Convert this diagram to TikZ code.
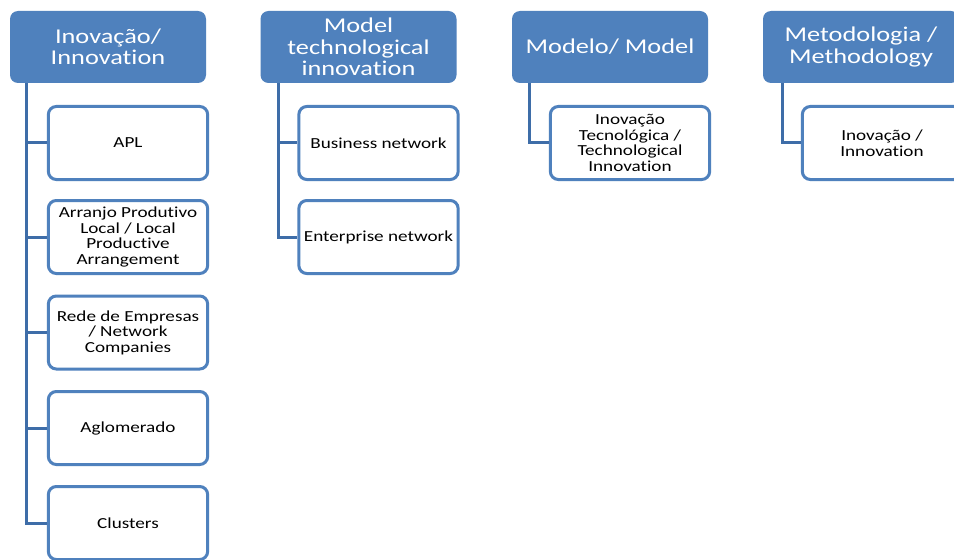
\documentclass[tikz,border=0pt]{standalone}
\usepackage{fontspec}
\setmainfont[FakeStretch=1.25,Ligatures=NoCommon]{Carlito}
\definecolor{hdr}{HTML}{4F81BD}
\definecolor{conn}{HTML}{3E6DA8}
\begin{document}
\begin{tikzpicture}[x=0.75pt,y=-0.75pt,
  hdrbox/.style={fill=hdr, draw=none, rounded corners=6pt, minimum width=147pt, minimum height=54pt,
    text=white, align=center, inner sep=1pt, font=\fontsize{15.8}{16}\selectfont},
  kidbox/.style={fill=white, draw=hdr, line width=2.25pt, rounded corners=6pt, minimum width=119.5pt, minimum height=54.75pt,
    text=black, align=center, inner sep=1pt, font=\fontsize{11.5}{11.6}\selectfont},
  link/.style={draw=conn, line width=2.25pt}]
\clip (0,0) rectangle (954,560);
\fill[white] (0,0) rectangle (954,560);
% headers
\node[hdrbox] (h1) at (108,47) {Inovação/\\Innovation};
\node[hdrbox] (h2) at (358.5,47) {Model\\technological\\innovation};
\node[hdrbox] (h3) at (610,47) {Modelo/ Model};
\node[hdrbox] (h4) at (861,47) {Metodologia /\\Methodology};
% children
\node[kidbox] (a1) at (128,143) {APL};
\node[kidbox] (a2) at (128,237) {Arranjo Produtivo\\Local / Local\\Productive\\Arrangement};
\node[kidbox] (a3) at (128,332.5) {Rede de Empresas\\/ Network\\Companies};
\node[kidbox] (a4) at (128,428) {Aglomerado};
\node[kidbox] (a5) at (128,523) {Clusters};
\node[kidbox] (b1) at (378.5,143) {Business network};
\node[kidbox] (b2) at (378.5,237) {Enterprise network};
\node[kidbox] (c1) at (630,143) {Inovação\\Tecnológica /\\Technological\\Innovation};
\node[kidbox] (d1) at (882,143) {Inovação /\\Innovation};
% connectors
\coordinate (s1) at ([xshift=12.75pt]h1.south west);
\coordinate (s2) at ([xshift=13.5pt]h2.south west);
\coordinate (s3) at ([xshift=13.5pt]h3.south west);
\coordinate (s4) at ([xshift=15pt]h4.south west);
\foreach \k in {a1,a2,a3,a4,a5} { \draw[link] (s1) |- (\k.west); }
\foreach \k in {b1,b2} { \draw[link] (s2) |- (\k.west); }
\draw[link] (s3) |- (c1.west);
\draw[link] (s4) |- (d1.west);
\end{tikzpicture}
\end{document}
